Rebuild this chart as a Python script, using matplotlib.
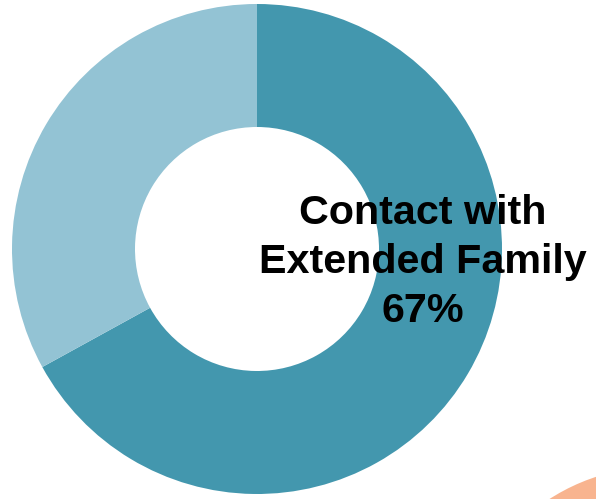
import matplotlib
matplotlib.use("Agg")
import matplotlib.pyplot as plt
from matplotlib.patches import Circle

labels = ["Contact with Extended Family", "Other"]
values = [67, 33]
colors = ["#4397AE", "#93C3D4"]
center_label = "Contact with\nExtended Family\n67%"

W, H = 596, 499
fig = plt.figure(figsize=(W / 100, H / 100), dpi=100)
ax = fig.add_axes([0, 0, 1, 1])
ax.set_xlim(0, W)
ax.set_ylim(0, H)
ax.set_aspect("equal")
ax.axis("off")

ax.add_patch(Circle((658, H - 667), 200, color="#F8B48F", lw=0))

ax.pie(values, colors=colors, startangle=90, counterclock=False,
       center=(257, H - 249), radius=245,
       wedgeprops=dict(width=123, linewidth=0))

ax.text(423, H - 262, center_label, ha="center", va="center",
        fontsize=29.7, fontweight="bold", family=["Liberation Sans", "DejaVu Sans"],
        linespacing=1.38, color="black")

ax.set_xlim(0, W)
ax.set_ylim(0, H)
fig.savefig("out.png", dpi=100)
